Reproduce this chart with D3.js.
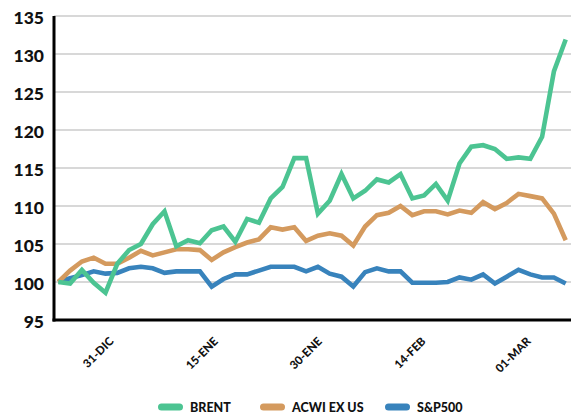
<!DOCTYPE html>
<html><head><meta charset="utf-8">
<script src="https://cdn.jsdelivr.net/npm/d3@7/dist/d3.min.js"></script>
<style>
html,body{margin:0;padding:0;background:#fff;}
svg{display:block;font-family:Lato,"Open Sans",sans-serif;}
</style></head>
<body><svg id="c" width="572" height="418"></svg>
<script>
const brent = [100,99.8,101.6,99.9,98.6,102.4,104.2,105.0,107.6,109.3,104.7,105.5,105.1,106.8,107.3,105.3,108.3,107.8,111.0,112.5,116.3,116.3,109.0,110.7,114.2,111.0,112.0,113.5,113.1,114.2,111.0,111.4,112.9,110.7,115.6,117.8,118.0,117.5,116.2,116.4,116.2,119.1,127.7,131.9];
const acwi = [100,101.5,102.7,103.2,102.4,102.4,103.2,104.1,103.5,103.9,104.3,104.3,104.2,102.9,103.9,104.6,105.2,105.6,107.2,106.9,107.2,105.4,106.1,106.4,106.1,104.8,107.3,108.8,109.1,110.0,108.8,109.3,109.3,108.9,109.4,109.1,110.5,109.6,110.4,111.6,111.3,111.0,109.0,105.5];
const spx = [100,100.5,100.9,101.4,101.1,101.2,101.8,102.0,101.8,101.2,101.4,101.4,101.4,99.4,100.4,101.0,101.0,101.5,102.0,102.0,102.0,101.4,102.0,101.1,100.7,99.4,101.3,101.8,101.4,101.4,99.9,99.9,99.9,100.0,100.6,100.3,101.0,99.8,100.7,101.6,101.0,100.6,100.6,99.8];
const seriesNames = ["BRENT","ACWI EX US","S&P500"];
const seriesColors = ["#4cc492","#d49a5e","#3883bc"];
const yTicks = [95,100,105,110,115,120,125,130,135];
const xTickLabels = ["31-DIC","15-ENE","30-ENE","14-FEB","01-MAR"];
const xTickPos = [4.75,13.6,22.4,31.2,40.1];

const svg = d3.select("#c");
const mLeft = 54, mRight = 571, mTop = 16, mBottom = 320;
const n = brent.length;
const x = d3.scaleLinear().domain([0, n-1]).range([58.3, 565.7]);
const y = d3.scaleLinear().domain([95,135]).range([mBottom, mTop]);

// gridlines
svg.append("g").selectAll("line").data(yTicks.filter(d=>d>95)).join("line")
  .attr("x1", mLeft).attr("x2", mRight)
  .attr("y1", d=>y(d)).attr("y2", d=>y(d))
  .attr("stroke", "#cbcbcb").attr("stroke-width", 1.5);

// y axis labels
const yAxis = d3.axisLeft(y).tickValues(yTicks).tickSize(0).tickPadding(10);
const gy = svg.append("g").attr("transform", `translate(${mLeft},0)`).call(yAxis);
gy.select(".domain").remove();
gy.selectAll("text").attr("font-family","Lato, sans-serif").attr("font-weight","900")
  .attr("font-size", 17.5).attr("fill","#111").attr("dy","0.42em");

// lines (BRENT on top)
const line = d3.line().x((d,i)=>x(i)).y(d=>y(d));
const cols = [seriesColors[2], seriesColors[1], seriesColors[0]];
svg.append("g").selectAll("path").data([spx, acwi, brent]).join("path")
  .attr("d", line).attr("fill","none")
  .attr("stroke", (d,i)=>cols[i]).attr("stroke-width", 4.6)
  .attr("stroke-linejoin","miter").attr("stroke-linecap","butt");

// axes lines
svg.append("line").attr("x1", mLeft).attr("x2", mLeft).attr("y1", mTop).attr("y2", mBottom+1.5)
  .attr("stroke","#000").attr("stroke-width",3);
svg.append("line").attr("x1", mLeft-1.5).attr("x2", mRight).attr("y1", mBottom).attr("y2", mBottom)
  .attr("stroke","#000").attr("stroke-width",3);

// x labels
svg.append("g").selectAll("text").data(xTickLabels).join("text")
  .attr("transform", (d,i)=>`translate(${x(xTickPos[i])},${342}) rotate(-45)`)
  .attr("text-anchor","end")
  .attr("font-family","Lato, sans-serif").attr("font-weight","900")
  .attr("font-size", 11.5).attr("fill","#111")
  .text(d=>d);

// legend
const legX = [158, 260, 385];
const lg = svg.append("g").selectAll("g").data(seriesNames).join("g")
  .attr("transform",(d,i)=>`translate(${legX[i]},407)`);
lg.append("line").attr("x1",3.5).attr("x2",21.5).attr("y1",0).attr("y2",0)
  .attr("stroke",(d,i)=>seriesColors[i]).attr("stroke-width",7).attr("stroke-linecap","round");
lg.append("text").attr("x",32).attr("y",0).attr("dy","0.36em")
  .attr("font-family","Lato, sans-serif").attr("font-weight","900")
  .attr("font-size",12.5).attr("fill","#111").text(d=>d);
</script></body></html>
